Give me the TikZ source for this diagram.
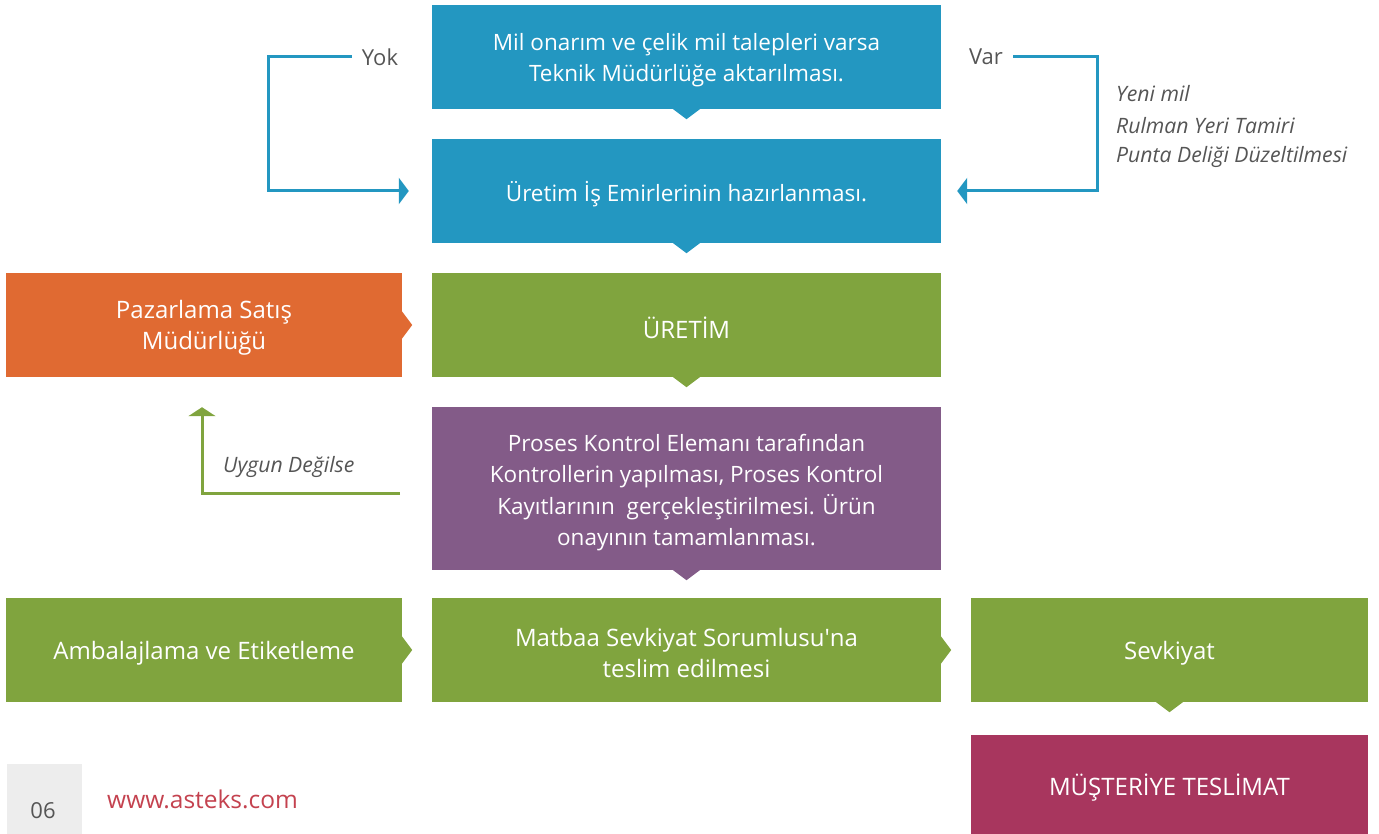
\documentclass[tikz,border=0pt]{standalone}
\usepackage{fontspec}
\setmainfont{Open Sans}
\usetikzlibrary{arrows.meta,calc}
\definecolor{cblue}{HTML}{2397C1}
\definecolor{cgreen}{HTML}{80A43E}
\definecolor{corange}{HTML}{E06A32}
\definecolor{cpurple}{HTML}{835B88}
\definecolor{cmag}{HTML}{A8365E}
\definecolor{cgrayb}{HTML}{EDEDED}
\definecolor{ctext}{HTML}{555555}
\definecolor{curl}{HTML}{C4424F}
\tikzset{
  box/.style={rectangle, inner sep=0pt, minimum height=104pt},
  wide/.style={box, minimum width=509pt},
  narrow/.style={box, minimum width=396pt},
  tx/.style={text=white, align=center, inner sep=0pt, yshift=-3pt,
    font=\fontsize{22.5}{31.5}\selectfont},
  txb/.style={tx, font=\fontsize{24}{31.5}\selectfont},
  lbl/.style={text=ctext, inner sep=0pt, inner xsep=10pt, font=\fontsize{22}{26}\selectfont},
  itl/.style={text=ctext, inner sep=0pt, anchor=west, font=\fontsize{21.2}{26}\selectfont\itshape},
  barrow/.style={draw=cblue, line width=3pt, -{Triangle[width=26pt,length=10pt]}},
  garrow/.style={draw=cgreen, line width=3pt, -{Triangle[width=27pt,length=9pt]}},
}
\newcommand{\btab}[2]{\fill[#2] ($(#1.south)+(-14pt,0.5pt)$) -- ($(#1.south)+(14pt,0.5pt)$) -- ($(#1.south)+(0,-10pt)$) -- cycle;}
\newcommand{\rtab}[2]{\fill[#2] ($(#1.east)+(-0.5pt,14pt)$) -- ($(#1.east)+(-0.5pt,-14pt)$) -- ($(#1.east)+(10pt,0)$) -- cycle;}
\begin{document}
\begin{tikzpicture}[x=1pt,y=-1pt]
\useasboundingbox (0,0) rectangle (1379,834);
\node[wide, fill=cblue, label={[tx]center:{Mil onarım ve çelik mil talepleri varsa\\Teknik Müdürlüğe aktarılması.}}] (b1) at (686.5,57) {};
\node[wide, fill=cblue, label={[tx]center:{Üretim İş Emirlerinin hazırlanması.}}] (b2) at (686.5,191) {};
\node[wide, fill=cgreen, label={[txb]center:{ÜRETİM}}] (ur) at (686.5,325) {};
\node[narrow, fill=corange, label={[txb]center:{Pazarlama Satış\\Müdürlüğü}}] (pz) at (204,325) {};
\node[wide, fill=cpurple, minimum height=163pt, label={[tx,yshift=-1pt]center:{Proses Kontrol Elemanı tarafından\\Kontrollerin yapılması, Proses Kontrol\\Kayıtlarının \ gerçekleştirilmesi. Ürün\\onayının tamamlanması.}}] (pk) at (686.5,488.5) {};
\node[narrow, fill=cgreen, label={[txb]center:{Ambalajlama ve Etiketleme}}] (am) at (204,650) {};
\node[wide, fill=cgreen, label={[txb]center:{Matbaa Sevkiyat Sorumlusu\textquotesingle na\\teslim edilmesi}}] (mt) at (686.5,650) {};
\node[narrow, minimum width=397pt, fill=cgreen, label={[txb]center:{Sevkiyat}}] (sv) at (1169.5,650) {};
\node[narrow, minimum width=397pt, minimum height=99pt, fill=cmag, label={[txb]center:{MÜŞTERİYE TESLİMAT}}] (ms) at (1169.5,784.5) {};
\btab{b1}{cblue}
\btab{b2}{cblue}
\btab{ur}{cgreen}
\btab{pk}{cpurple}
\btab{sv}{cgreen}
\rtab{pz}{corange}
\rtab{am}{cgreen}
\rtab{mt}{cgreen}
% labels
\node[lbl] (yok) at (380,57) {Yok};
\node[lbl] (var) at (986,57) {Var};
\node[itl] (t1) at (1116,94) {Yeni mil};
\node[itl] (t2) at (1116,126) {Rulman Yeri Tamiri};
\node[itl] (t3) at (1116,157) {Punta Deliği Düzeltilmesi};
\node[itl] (ug) at (223,467) {Uygun Değilse};
% connectors
\draw[barrow] (yok.west) -- (268,57) |- ([xshift=-23pt]b2.west);
\draw[barrow] (var.east) -- (1097,57) |- ([xshift=16pt]b2.east);
\coordinate (gs) at (400,493);
\draw[garrow] (gs) -| ([yshift=-30pt,xshift=-2pt]pz.south);
% footer
\fill[cgrayb] (7,764) rectangle (82,834);
\node[text=ctext, inner sep=0pt, font=\fontsize{22}{26}\selectfont] (pg) at (43,811) {06};
\node[text=curl, inner sep=0pt, anchor=west, font=\fontsize{24.5}{28}\selectfont] (url) at (107,799) {www.asteks.com};
\end{tikzpicture}
\end{document}
